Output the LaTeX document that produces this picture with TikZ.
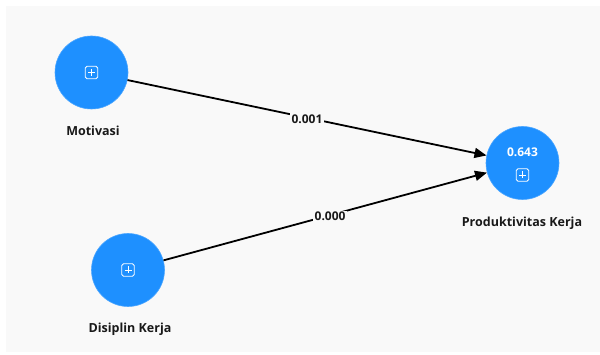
\documentclass[tikz,border=0pt]{standalone}
\usepackage{fontspec}
\setmainfont{Open Sans}
\usetikzlibrary{arrows.meta}
\definecolor{bgc}{HTML}{F9F9F9}
\definecolor{nodeblue}{RGB}{30,144,255}
\begin{document}
\begin{tikzpicture}[x=1pt,y=-1pt,
  latent/.style={circle,fill=nodeblue,draw=nodeblue!80!white,line width=0.6pt,minimum size=73pt,inner sep=0pt},
  lbl/.style={font=\bfseries\fontsize{12.5}{14}\selectfont,text=black!90},
  pathline/.style={line width=1.8pt,-{Triangle[length=12pt,width=10pt]}},
  coef/.style={font=\bfseries\fontsize{12}{14}\selectfont,fill=bgc,inner sep=1.5pt,text=black!90},
  icon/.style={draw=white,line width=0.9pt,rounded corners=1.8pt,minimum size=12.5pt,inner sep=0pt}]
\useasboundingbox (0,0) rectangle (600,355);
\fill[white] (0,0) rectangle (600,355);
\fill[bgc] (6,6) rectangle (600,352);
\node[latent] (mot) at (91.5,72.5) {};
\node[latent] (dis) at (128,270) {};
\node[latent] (prod) at (522.5,163) {};
\node[lbl] (lmot) at (93,131) {Motivasi};
\node[lbl] (ldis) at (130,329) {Disiplin Kerja};
\node[lbl] (lprod) at (522,223) {Produktivitas Kerja};
\node[font=\bfseries\fontsize{12}{14}\selectfont,text=white] (r2) at (522.5,152) {0.643};
\node[icon] (imot) at (91.5,72.5) {};
\node[icon] (idis) at (128,270) {};
\node[icon] (iprod) at (522.5,175) {};
\foreach \n in {imot,idis,iprod}{
  \draw[white,line width=0.9pt] (\n.center) +(-3.5,0) -- +(3.5,0) (\n.center) +(0,-3.5) -- +(0,3.5);}
\draw[pathline] (mot) -- node[coef,pos=0.5,yshift=-1.5pt] (c1) {0.001} (prod);
\draw[pathline] (dis) -- node[coef,pos=0.515,yshift=-1.5pt] (c2) {0.000} (prod);
\end{tikzpicture}
\end{document}
